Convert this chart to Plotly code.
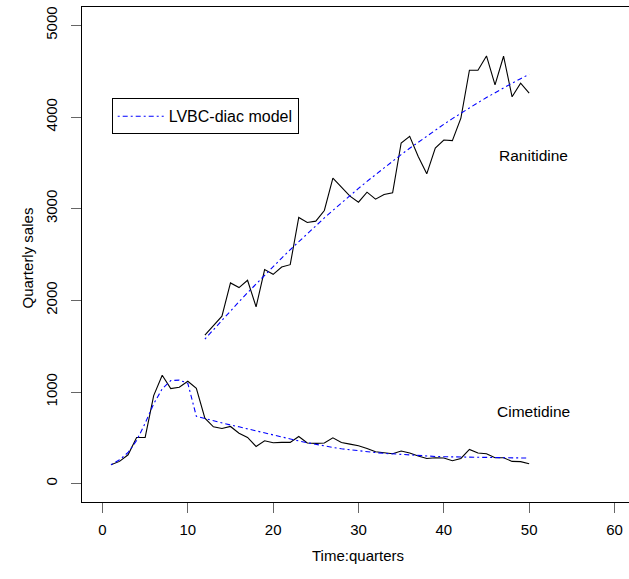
import plotly.graph_objects as go

# Cimetidine (quarters 1..50)
cim_t = list(range(1, 51))
cim_sales = [207, 243, 315, 504, 504, 961, 1182, 1037, 1052, 1117,
             1041, 715, 620, 602, 624, 551, 504, 406, 468, 446,
             450, 450, 515, 443, 439, 443, 500, 450, 431, 413,
             384, 348, 337, 326, 356, 334, 301, 275, 283, 280,
             250, 275, 373, 334, 326, 283, 283, 243, 240, 218]
cim_model = [207, 260, 340, 470, 660, 870, 1035, 1125, 1130, 1095,
             735, 710, 688, 660, 640, 620, 598, 570, 548, 527,
             506, 485, 466, 447, 428, 410, 395, 381, 369, 358,
             348, 339, 331, 324, 318, 312, 306, 301, 297, 294,
             292, 290, 289, 288, 286, 285, 284, 282, 281, 279]

# Ranitidine (quarters 12..50)
ran_t = list(range(12, 51))
ran_sales = [1621, 1722, 1827, 2190, 2139, 2219, 1929, 2335, 2284, 2364,
             2389, 2904, 2850, 2864, 2980, 3332, 3234, 3136, 3071, 3180,
             3104, 3154, 3172, 3716, 3789, 3570, 3380, 3662, 3749, 3742,
             3988, 4510, 4510, 4666, 4351, 4663, 4220, 4369, 4260]
ran_model = [1577, 1681, 1784, 1885, 1985, 2083, 2180, 2275, 2369, 2461,
             2552, 2641, 2728, 2814, 2899, 2981, 3063, 3143, 3221, 3298,
             3373, 3447, 3519, 3590, 3659, 3726, 3793, 3857, 3920, 3982,
             4042, 4100, 4157, 4212, 4266, 4318, 4369, 4418, 4466]

x_ticks = [0, 10, 20, 30, 40, 50, 60]
y_ticks = [0, 1000, 2000, 3000, 4000, 5000]

FONT = "Liberation Sans, Arial, sans-serif"
BLUE = "rgb(0,0,255)"
DASH = "2px,3px,5px,3px"

fig = go.Figure()
fig.add_trace(go.Scatter(x=ran_t, y=ran_sales, mode="lines",
                         line=dict(color="black", width=1.1), showlegend=False))
fig.add_trace(go.Scatter(x=cim_t, y=cim_sales, mode="lines",
                         line=dict(color="black", width=1.1), showlegend=False))
fig.add_trace(go.Scatter(x=ran_t, y=ran_model, mode="lines", name="LVBC-diac model",
                         line=dict(color=BLUE, width=1.1, dash=DASH), showlegend=True))
fig.add_trace(go.Scatter(x=cim_t, y=cim_model, mode="lines", name="LVBC-diac model",
                         line=dict(color=BLUE, width=1.1, dash=DASH), showlegend=False))

fig.add_annotation(x=50.5, y=3580, text="Ranitidine", showarrow=False,
                   font=dict(family=FONT, size=15.5, color="black"))
fig.add_annotation(x=50.5, y=790, text="Cimetidine", showarrow=False,
                   font=dict(family=FONT, size=15.5, color="black"))
fig.add_annotation(x=30, xref="x", y=-0.129, yref="paper", text="Time:quarters",
                   showarrow=False, font=dict(family=FONT, size=15, color="black"))
fig.add_annotation(x=-0.1188, xref="paper", y=0.493, yref="paper", text="Quarterly sales",
                   textangle=-90, showarrow=False, font=dict(family=FONT, size=15, color="black"))

fig.update_layout(
    width=629, height=579,
    margin=dict(l=82, r=0, t=7, b=77),
    plot_bgcolor="white", paper_bgcolor="white",
    font=dict(family=FONT, size=15, color="black"),
    legend=dict(x=0.0543, y=0.8156, xanchor="left", yanchor="top",
                bordercolor="black", borderwidth=1, bgcolor="white", itemwidth=46,
                font=dict(family=FONT, size=16, color="black")),
    xaxis=dict(range=[-2.4, 61.7], tickvals=x_ticks, ticktext=[str(v) for v in x_ticks],
               showgrid=False, zeroline=False, showline=True, linecolor="black",
               linewidth=1, mirror=True, ticks="outside", ticklen=10, tickcolor="#666",
               tickwidth=1, ticklabelstandoff=4),
    yaxis=dict(range=[-200, 5200], tickvals=y_ticks, ticktext=[str(v) for v in y_ticks],
               showgrid=False, zeroline=False, showline=True, linecolor="black",
               linewidth=1, ticks="outside", ticklen=10, tickcolor="#666",
               tickwidth=1, tickangle=-90, ticklabelstandoff=8),
)

fig.write_html("out.html")
